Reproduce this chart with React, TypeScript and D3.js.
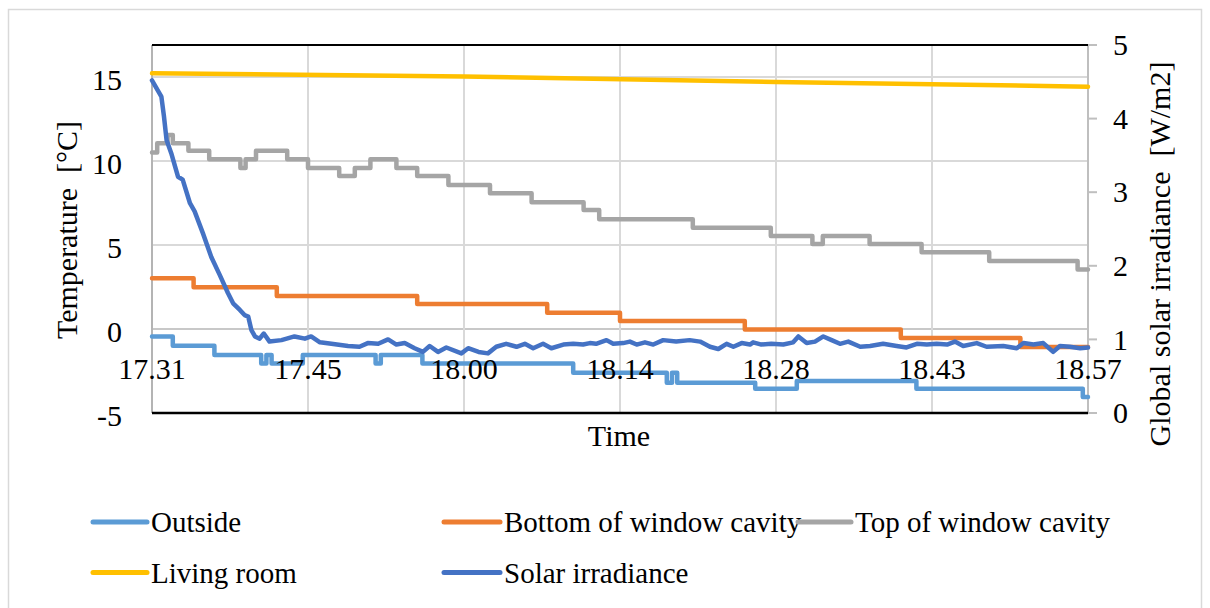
import React from 'react';
import * as d3 from 'd3';

// ---- data ----
const TIME_LABELS = ['17.31', '17.45', '18.00', '18.14', '18.28', '18.43', '18.57'];
const SAMPLE_COUNT = 181; // samples, one label every 30
const LABEL_EVERY = 30;
const TEMP_TICKS = [-5, 0, 5, 10, 15];
const IRR_TICKS = [0, 1, 2, 3, 4, 5];

// [sample index, value]
const outside: [number, number][] = [
  [0, -0.45], [4, -1.0], [12, -1.55], [21, -2.05], [22, -1.55], [23, -2.05], [29, -1.55],
  [43, -2.05], [44, -1.55], [52, -2.05], [81, -2.6], [99, -3.2], [100, -2.6], [101, -3.2],
  [116, -3.55], [124, -3.1], [147, -3.55], [179, -4.05], [180, -4.05],
];
const bottomCavity: [number, number][] = [
  [0, 3.02], [8, 2.48], [24, 1.96], [51, 1.49], [76, 0.97], [90, 0.48], [114, -0.03],
  [144, -0.54], [167, -1.07], [180, -1.07],
];
const topCavity: [number, number][] = [
  [0, 10.5], [1, 11.05], [3, 11.55], [4, 11.05], [7, 10.6], [11, 10.1], [17, 9.58], [18, 10.1],
  [20, 10.6], [26, 10.1], [30, 9.58], [36, 9.1], [39, 9.58], [42, 10.1], [47, 9.58], [51, 9.1],
  [57, 8.57], [65, 8.08], [73, 7.54], [83, 7.08], [86, 6.53], [104, 6.03], [119, 5.54],
  [127, 5.06], [129, 5.54], [138, 5.06], [148, 4.57], [161, 4.05], [178, 3.54], [180, 3.54],
];
const livingRoom: [number, number][] = [
  [0, 15.22], [60, 15.03], [120, 14.7], [180, 14.42],
];
const solar: [number, number][] = [
  [0, 4.52], [1.8, 4.3], [2.3, 4.03], [2.8, 3.71], [3.7, 3.53], [5.0, 3.21], [5.9, 3.17],
  [7.3, 2.85], [8.2, 2.74], [9.8, 2.44], [11.4, 2.12], [13.0, 1.88], [14.6, 1.63], [15.6, 1.49],
  [16.9, 1.4], [17.8, 1.33], [18.5, 1.31], [19.1, 1.13], [19.8, 1.04], [20.7, 1.01], [21.5, 1.08],
  [22.6, 0.97], [24.9, 0.99], [27.4, 1.04], [29.4, 1.01], [30.6, 1.04], [32.3, 0.96], [34.5, 0.94],
  [37.7, 0.91], [39.9, 0.9], [41.5, 0.95], [43.5, 0.94], [45.4, 1.0], [47.0, 0.93], [48.6, 0.95],
  [50.5, 0.88], [52.1, 0.83], [53.4, 0.91], [55.0, 0.83], [56.6, 0.89], [59.5, 0.81], [60.8, 0.88],
  [62.8, 0.83], [64.6, 0.81], [66.2, 0.9], [68.1, 0.94], [70.1, 0.9], [71.7, 0.94], [73.3, 0.88],
  [75.2, 0.94], [76.8, 0.88], [79.1, 0.93], [81.0, 0.94], [82.9, 0.93], [84.2, 0.95], [85.4, 0.94],
  [87.4, 0.99], [88.7, 0.94], [90.6, 0.95], [91.9, 0.97], [93.2, 0.93], [94.8, 0.96], [96.4, 0.93],
  [98.3, 0.99], [100.8, 0.97], [103.4, 0.99], [105.4, 0.97], [107.3, 0.9], [108.9, 0.87],
  [110.5, 0.94], [111.8, 0.9], [113.4, 0.95], [115.0, 0.93], [115.6, 0.96], [117.2, 0.93],
  [119.1, 0.94], [121.4, 0.93], [123.3, 0.96], [124.3, 1.04], [125.9, 0.95], [127.5, 0.97],
  [129.1, 1.04], [130.7, 0.99], [132.3, 0.94], [133.9, 0.97], [136.2, 0.9], [138.1, 0.91],
  [140.6, 0.94], [143.2, 0.91], [145.1, 0.89], [147.1, 0.94], [149.0, 0.93], [150.9, 0.94],
  [152.9, 0.93], [154.4, 0.97], [156.0, 0.91], [158.6, 0.95], [160.5, 0.9], [163.7, 0.91],
  [166.3, 0.88], [167.6, 0.95], [169.5, 0.93], [171.4, 0.95], [173.3, 0.83], [174.6, 0.91],
  [176.5, 0.9], [178.5, 0.88], [180, 0.89],
];

const SERIES = [
  { name: 'Outside', data: outside, color: '#5B9BD5', axis: 'left', step: true },
  { name: 'Bottom of window cavity', data: bottomCavity, color: '#ED7D31', axis: 'left', step: true },
  { name: 'Top of window cavity', data: topCavity, color: '#A5A5A5', axis: 'left', step: true },
  { name: 'Living room', data: livingRoom, color: '#FFC000', axis: 'left', step: false },
  { name: 'Solar irradiance', data: solar, color: '#4472C4', axis: 'right', step: false },
];

const SERIF: React.CSSProperties = { fontFamily: "'Liberation Serif', monospace", whiteSpace: 'pre' };

export default function App() {
  const W = 1210, H = 608;
  const L = 152, R = 1088, T = 45, B = 413;
  const x = d3.scaleLinear().domain([0, SAMPLE_COUNT - 1]).range([L, R]);
  const yL = d3.scaleLinear().domain([-5, 16.9]).range([B, T]);
  const yR = d3.scaleLinear().domain([0, 5]).range([B, T]);

  const mk = (s: any) =>
    d3.line<[number, number]>()
      .x(d => x(d[0]))
      .y(d => (s.axis === 'left' ? yL(d[1]) : yR(d[1])))
      .curve(s.step ? d3.curveStepAfter : d3.curveLinear)(s.data) || '';

  const labelIdx = TIME_LABELS.map((_, i) => i * LABEL_EVERY);

  const legendPos = [
    { x: 93, y: 522 }, { x: 444, y: 522 }, { x: 798, y: 522 },
    { x: 93, y: 572.5 }, { x: 444, y: 572.5 },
  ];
  const swatchW = [54, 56, 53, 54, 56];

  return (
    <svg width={W} height={H} style={{ position: 'absolute', left: 0, top: 0 }}>
      <rect x={0} y={0} width={W} height={H} fill="#fff" />
      <rect x={8.5} y={9.5} width={1193} height={620} fill="none" stroke="#D9D9D9" strokeWidth={1.5} />

      {/* horizontal gridlines */}
      {TEMP_TICKS.filter(t => t > -5).map(t => (
        <line key={'hg' + t} x1={L} x2={R} y1={yL(t)} y2={yL(t)}
          stroke={t === 0 ? '#C8C8C8' : '#D9D9D9'} strokeWidth={2} />
      ))}
      {/* vertical gridlines */}
      {labelIdx.map(i => (
        <line key={'vg' + i} x1={x(i)} x2={x(i)} y1={T} y2={B} stroke="#D9D9D9" strokeWidth={2} />
      ))}

      {/* axes */}
      <line x1={L} x2={L} y1={T} y2={B} stroke="#B4B4B4" strokeWidth={2} />
      <line x1={R} x2={R} y1={T} y2={B + 1} stroke="#BFBFBF" strokeWidth={2} />
      {IRR_TICKS.map(t => (
        <line key={'rt' + t} x1={R} x2={R + 9} y1={yR(t)} y2={yR(t)} stroke="#BFBFBF" strokeWidth={2} />
      ))}
      <line x1={L} x2={R} y1={T} y2={T} stroke="#000" strokeWidth={2} />
      <line x1={L} x2={R} y1={B} y2={B} stroke="#000" strokeWidth={2.5} />

      {/* series */}
      {SERIES.map(s => (
        <path key={s.name} d={mk(s)} fill="none" stroke={s.color} strokeWidth={4.5}
          strokeLinejoin="round" strokeLinecap="round" />
      ))}

      {/* tick labels */}
      {TEMP_TICKS.map(t => (
        <text key={'lt' + t} x={122} y={yL(t)} dy="0.42em" textAnchor="end" fill="#000" fontSize={30} style={SERIF}>{t}</text>
      ))}
      {IRR_TICKS.map(t => (
        <text key={'rl' + t} x={1113} y={yR(t)} dy="0.34em" textAnchor="start" fill="#000" fontSize={30} style={SERIF}>{t}</text>
      ))}
      {TIME_LABELS.map((lab, i) => (
        <text key={'xl' + lab} x={x(labelIdx[i])} y={379} textAnchor="middle" fill="#000" fontSize={30} style={SERIF}>{lab}</text>
      ))}

      {/* axis titles */}
      <text x={619} y={446} textAnchor="middle" fill="#000" fontSize={30} style={SERIF}>Time</text>
      <text transform="translate(77,230) rotate(-90)" textAnchor="middle" fill="#000" fontSize={30}
        style={SERIF}>{'Temperature  [°C]'}</text>
      <text transform="translate(1170,254) rotate(-90)" textAnchor="middle" fill="#000" fontSize={30}
        style={SERIF}>{'Global solar irradiance  [W/m2]'}</text>

      {/* legend */}
      {SERIES.map((s, i) => (
        <g key={'lg' + s.name}>
          <line x1={legendPos[i].x} x2={legendPos[i].x + swatchW[i]} y1={legendPos[i].y} y2={legendPos[i].y}
            stroke={s.color} strokeWidth={5} strokeLinecap="round" />
          <text x={legendPos[i].x + swatchW[i] + 4} y={legendPos[i].y + 10} fill="#000" fontSize={29} style={SERIF}>{s.name}</text>
        </g>
      ))}
    </svg>
  );
}
